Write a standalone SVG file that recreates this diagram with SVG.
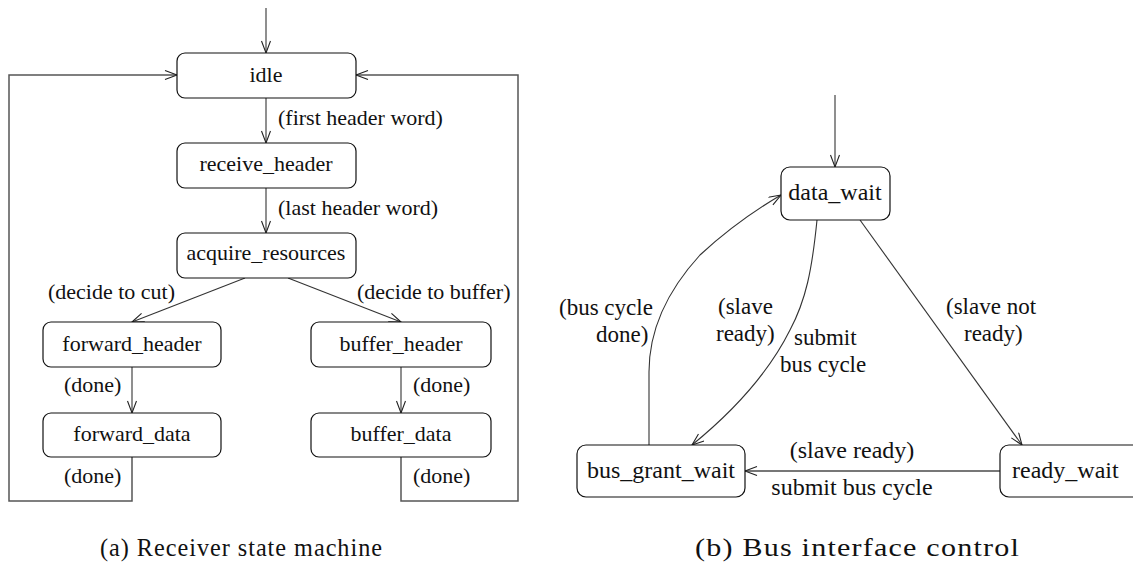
<svg xmlns="http://www.w3.org/2000/svg" width="1133" height="565" viewBox="0 0 1133 565">
<defs>
<marker id="arr" markerUnits="userSpaceOnUse" markerWidth="16" markerHeight="12" refX="13" refY="5" orient="auto">
<path d="M1,0.5 L13,5 L1,9.5" fill="none" stroke="#222" stroke-width="1.1"/>
</marker>
</defs>
<style>
.box{fill:#fff;stroke:#111;stroke-width:1.2}
.ln{fill:none;stroke:#333;stroke-width:1.1}
.lp{fill:none;stroke:#555;stroke-width:1.5}
.t{font-family:"Liberation Serif","Times New Roman",serif;fill:#111}
.s22{font-size:22px}
.s23{font-size:23px}
.s24{font-size:24px}
.mid{text-anchor:middle}
.cap{font-family:"Liberation Serif","DejaVu Serif",serif;font-size:25px;fill:#111;letter-spacing:1px}
</style>
<rect width="1133" height="565" fill="#fff"/>
<g id="connectors">
<line class="ln" x1="266" y1="8" x2="266" y2="53" marker-end="url(#arr)"/>
<line class="ln" x1="266" y1="98" x2="266" y2="143" marker-end="url(#arr)"/>
<line class="ln" x1="266" y1="188" x2="266" y2="233" marker-end="url(#arr)"/>
<line class="ln" x1="245" y1="278" x2="132" y2="322" marker-end="url(#arr)"/>
<line class="ln" x1="288" y1="278" x2="401" y2="322" marker-end="url(#arr)"/>
<line class="ln" x1="132" y1="367" x2="132" y2="413" marker-end="url(#arr)"/>
<line class="ln" x1="401" y1="367" x2="401" y2="413" marker-end="url(#arr)"/>
<polyline class="lp" points="132,457 132,501 9,501 9,75 177,75" marker-end="url(#arr)"/>
<polyline class="lp" points="401,457 401,501 518,501 518,75 356,75" marker-end="url(#arr)"/>
<line class="ln" x1="835" y1="95" x2="835" y2="167" marker-end="url(#arr)"/>
<path class="ln" d="M649,445 L649,372 C649,330 668,290 700,255 C725,232 752,212 781,195" marker-end="url(#arr)"/>
<path class="ln" d="M817,220 C812,270 806,300 790,330 C770,370 735,410 692,445" marker-end="url(#arr)"/>
<line class="ln" x1="860" y1="220" x2="1022" y2="445" marker-end="url(#arr)"/>
<line x1="1000" y1="471" x2="745" y2="471" stroke="#777" stroke-width="2" marker-end="url(#arr)"/>
</g>
<g id="labels" class="t s22">
<text x="278" y="125">(first header word)</text>
<text x="278" y="215">(last header word)</text>
<text x="48" y="299">(decide to cut)</text>
<text x="357" y="299">(decide to buffer)</text>
<text x="64" y="392">(done)</text>
<text x="413" y="392">(done)</text>
<text x="64" y="483">(done)</text>
<text x="413" y="483">(done)</text>
</g>
<g id="labels-b" class="t s23">
<text x="559" y="315">(bus cycle</text>
<text x="596" y="342">done)</text>
<text x="718" y="314">(slave</text>
<text x="716" y="341">ready)</text>
<text x="794" y="345">submit</text>
<text x="780" y="372">bus cycle</text>
<text x="946" y="314">(slave not</text>
<text x="964" y="341">ready)</text>
</g>
<g id="labels-c" class="t s24">
<text x="852" y="458" class="mid">(slave ready)</text>
<text x="852" y="495" class="mid">submit bus cycle</text>
</g>
<g id="idle"><rect class="box" x="177" y="53" width="179" height="45" rx="8"/><text class="t s22 mid" x="266" y="82">idle</text></g>
<g id="receive_header"><rect class="box" x="177" y="143" width="179" height="45" rx="8"/><text class="t s22 mid" x="266" y="171">receive_header</text></g>
<g id="acquire_resources"><rect class="box" x="177" y="233" width="179" height="45" rx="8"/><text class="t s22 mid" x="266" y="260">acquire_resources</text></g>
<g id="forward_header"><rect class="box" x="43" y="322" width="178" height="45" rx="8"/><text class="t s22 mid" x="132" y="351">forward_header</text></g>
<g id="buffer_header"><rect class="box" x="311" y="322" width="180" height="45" rx="8"/><text class="t s22 mid" x="401" y="351">buffer_header</text></g>
<g id="forward_data"><rect class="box" x="43" y="413" width="178" height="44" rx="8"/><text class="t s22 mid" x="132" y="441">forward_data</text></g>
<g id="buffer_data"><rect class="box" x="311" y="413" width="180" height="44" rx="8"/><text class="t s22 mid" x="401" y="441">buffer_data</text></g>
<g id="data_wait"><rect class="box" x="781" y="167" width="109" height="53" rx="9"/><text class="t s24 mid" x="835" y="200">data_wait</text></g>
<g id="bus_grant_wait"><rect class="box" x="577" y="445" width="168" height="52" rx="9"/><text class="t s24 mid" x="661" y="478">bus_grant_wait</text></g>
<g id="ready_wait"><rect class="box" x="1000" y="445" width="145" height="52" rx="9"/><text class="t s24" x="1012" y="478">ready_wait</text></g>
<g id="captions">
<text class="cap" x="100" y="556" textLength="283" lengthAdjust="spacingAndGlyphs">(a) Receiver state machine</text>
<text class="cap" x="695" y="556" textLength="325" lengthAdjust="spacingAndGlyphs">(b) Bus interface control</text>
</g>
</svg>
